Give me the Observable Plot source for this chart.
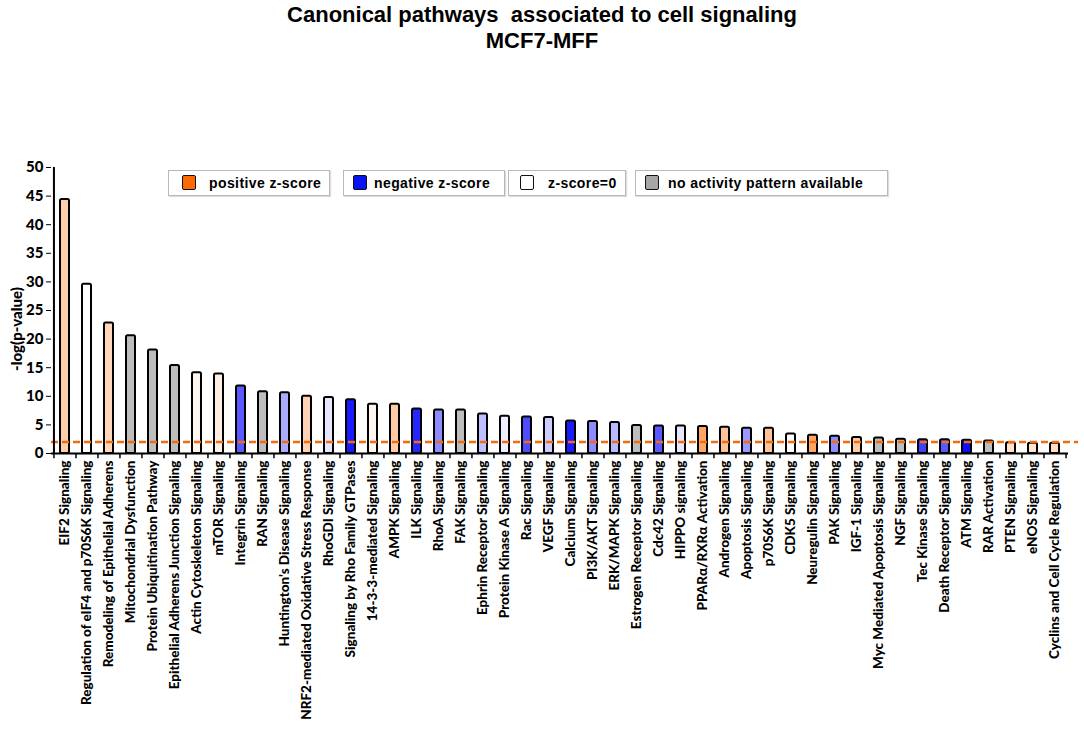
<!DOCTYPE html>
<html>
<head>
<meta charset="utf-8">
<script src="https://cdn.jsdelivr.net/npm/d3@7"></script>
<script src="https://cdn.jsdelivr.net/npm/@observablehq/plot@0.6"></script>
<style>
  html, body { margin: 0; padding: 0; background: #fff; }
  #wrap { position: relative; width: 1084px; height: 753px; overflow: hidden; font-family: "Liberation Sans", Arial, sans-serif; }
  #title { height: 60px; text-align: center; font-weight: bold; font-size: 22px; line-height: 26px; padding-top: 2px; box-sizing: border-box; color: #000; }
  .lg { position: absolute; top: 170px; height: 26px; border: 1px solid #b8b8b8; box-shadow: 1px 1px 1px #ddd; background: #fff; box-sizing: border-box; font-weight: bold; font-size: 14px; letter-spacing: 0.4px; white-space: nowrap; }
  .lg .sw { position: absolute; top: 4px; width: 14px; height: 15px; border: 1.5px solid #111; border-radius: 2px; box-sizing: border-box; }
  .lg .tx { position: absolute; top: 4px; }
  #ylab { position: absolute; left: 16px; top: 329px; transform: translate(-50%, -50%) rotate(-90deg); font-family: Lato, sans-serif; font-weight: 900; font-size: 15px; white-space: nowrap; }
</style>
</head>
<body>
<div id="wrap">
  <div id="title">Canonical pathways&nbsp; associated to cell signaling<br>MCF7-MFF</div>
  <div id="chart"></div>
  <div id="legend"></div>
  <div id="ylab">-log(p-value)</div>
</div>
<script>
// Pathway names (x categories)
const pathways = [
  "EIF2 Signaling",
  "Regulation of eIF4 and p70S6K Signaling",
  "Remodeling of Epithelial Adherens",
  "Mitochondrial Dysfunction",
  "Protein Ubiquitination Pathway",
  "Epithelial Adherens Junction Signaling",
  "Actin Cytoskeleton Signaling",
  "mTOR Signaling",
  "Integrin Signaling",
  "RAN Signaling",
  "Huntington's Disease Signaling",
  "NRF2-mediated Oxidative Stress Response",
  "RhoGDI Signaling",
  "Signaling by Rho Family GTPases",
  "14-3-3-mediated Signaling",
  "AMPK Signaling",
  "ILK Signaling",
  "RhoA Signaling",
  "FAK Signaling",
  "Ephrin Receptor Signaling",
  "Protein Kinase A Signaling",
  "Rac Signaling",
  "VEGF Signaling",
  "Calcium Signaling",
  "PI3K/AKT Signaling",
  "ERK/MAPK Signaling",
  "Estrogen Receptor Signaling",
  "Cdc42 Signaling",
  "HIPPO signaling",
  "PPARα/RXRα Activation",
  "Androgen Signaling",
  "Apoptosis Signaling",
  "p70S6K Signaling",
  "CDK5 Signaling",
  "Neuregulin Signaling",
  "PAK Signaling",
  "IGF-1 Signaling",
  "Myc Mediated Apoptosis Signaling",
  "NGF Signaling",
  "Tec Kinase Signaling",
  "Death Receptor Signaling",
  "ATM Signaling",
  "RAR Activation",
  "PTEN Signaling",
  "eNOS Signaling",
  "Cyclins and Cell Cycle Regulation"
];

// -log(p-value)
const logP = [
  44.4, 29.6, 22.8, 20.6, 18.1, 15.4, 14.1, 13.9, 11.8, 10.8,
  10.6, 10.0, 9.8, 9.4, 8.6, 8.6, 7.8, 7.6, 7.6, 6.9,
  6.5, 6.4, 6.3, 5.7, 5.6, 5.4, 4.9, 4.8, 4.8, 4.7,
  4.6, 4.4, 4.4, 3.4, 3.2, 3.0, 2.8, 2.7, 2.5, 2.4,
  2.4, 2.3, 2.2, 1.9, 1.8, 1.8
];

// estimated z-scores (null = no activity pattern available)
const zScore = [
  1.3, 0, 1.1, null, null, null, 0.25, 0.4, -2.6, null,
  -1.3, 1.2, -0.4, -3.6, 0.25, 1.4, -3.4, -1.8, null, -1.0,
  -0.25, -2.8, -0.8, -3.6, -1.8, -1.1, null, -2.6, -0.4, 2.4,
  1.6, -1.6, 1.6, 0, 2.4, -1.8, 1.4, null, null, -3.0,
  -2.6, -3.8, null, 0.8, 0.7, 0.9
];

const threshold = 2.0;
const yTicks = [0, 5, 10, 15, 20, 25, 30, 35, 40, 45, 50];

const legendItems = ["positive z-score", "negative z-score", "z-score=0", "no activity pattern available"];

const rows = pathways.map((name, i) => ({name, value: logP[i], z: zScore[i]}));

const posColor = d3.interpolateRgb("#ffffff", "#ff6a00");
const negColor = d3.interpolateRgb("#ffffff", "#0000ff");
function barColor(z) {
  if (z == null) return "#bdbdbd";
  if (z >= 0) return posColor(Math.min(z / 4, 1));
  return negColor(Math.min(-z / 4, 1));
}

const W = 1084, H = 693, ML = 51, MR = 16, MT = 107, MB = 300;
const step = (W - ML - MR) / pathways.length;

const plot = Plot.plot({
  width: W,
  height: H,
  marginTop: MT,
  marginBottom: MB,
  marginLeft: ML,
  marginRight: MR,
  style: {fontFamily: "Lato, sans-serif", fontWeight: "bold", color: "#000", background: "transparent"},
  x: {type: "band", domain: pathways, paddingInner: 0.6, paddingOuter: 0.3, axis: null},
  y: {domain: [0, 50], axis: null},
  marks: [
    Plot.barY(rows, {x: "name", y: "value", fill: d => barColor(d.z), stroke: "#000", strokeWidth: 2, rx: 1.5}),
    Plot.ruleY([threshold], {stroke: "#f26b0f", strokeWidth: 2.5, strokeDasharray: "7,4", insetRight: -10}),
    Plot.ruleY([0], {stroke: "#000", strokeWidth: 2}),
    Plot.ruleX([pathways[0]], {y1: 0, y2: 50, dx: -step / 2, stroke: "#000", strokeWidth: 2}),
    Plot.ruleX(pathways, {y1: 0, y2: -0.9, dx: -step / 2, stroke: "#000", strokeWidth: 1.5}),
    Plot.ruleX([pathways[pathways.length - 1]], {y1: 0, y2: -0.9, dx: step / 2, stroke: "#000", strokeWidth: 1.5}),
    Plot.axisY({ticks: yTicks, tickSize: 5, tickPadding: 3, fontSize: 15, fontWeight: 900, label: null, tickFormat: d => String(d)}),
    Plot.axisX({tickSize: 0, tickPadding: 7, tickRotate: -90, fontSize: 13.5, fontWeight: 900, label: null})
  ]
});
document.getElementById("chart").appendChild(plot);

// Legend boxes (HTML, above the plot area)
const legendBoxes = [
  {left: 168, width: 162, sw: 13, tx: 40, fill: "#ff6a00"},
  {left: 343, width: 162, sw: 9, tx: 30, fill: "#0a14f0"},
  {left: 508, width: 118, sw: 11, tx: 39, fill: "#ffffff"},
  {left: 635, width: 253, sw: 9, tx: 32, fill: "#a6a6a6"}
];
const lg = document.getElementById("legend");
legendItems.forEach((label, i) => {
  const b = legendBoxes[i];
  const box = document.createElement("div");
  box.className = "lg";
  box.style.left = b.left + "px";
  box.style.width = b.width + "px";
  const sw = document.createElement("div");
  sw.className = "sw";
  sw.style.left = b.sw + "px";
  sw.style.background = b.fill;
  const tx = document.createElement("div");
  tx.className = "tx";
  tx.style.left = b.tx + "px";
  tx.textContent = label;
  box.appendChild(sw);
  box.appendChild(tx);
  lg.appendChild(box);
});
</script>
</body>
</html>
